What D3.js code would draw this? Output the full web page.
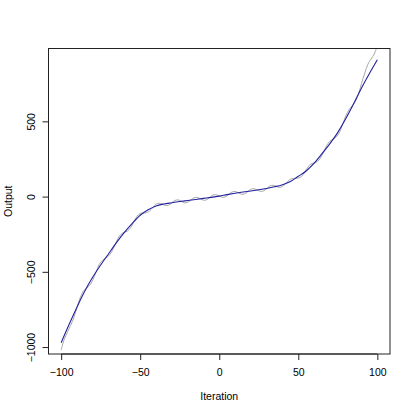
<!DOCTYPE html>
<html>
<head>
<meta charset="utf-8">
<script src="https://cdn.jsdelivr.net/npm/d3@7"></script>
<style>
  html, body { margin: 0; padding: 0; background: #fff; }
  text { font-family: "Liberation Sans", Arial, Helvetica, sans-serif; fill: #000; }
</style>
</head>
<body>
<svg id="chart" width="415" height="415"></svg>
<script>
// ---- data ----
const xTicks = [-100, -50, 0, 50, 100];
const yTicks = [-1000, -500, 0, 500];
const xLabel = "Iteration";
const yLabel = "Output";

// smooth (blue) series
const blueX = [-100, -95, -90, -85, -80, -75, -70, -65, -60, -55, -50, -45, -40, -35, -30, -25, -20, -15, -10, -5,
               0, 5, 10, 15, 20, 25, 30, 35, 40, 45, 50, 55, 60, 65, 70, 75, 80, 85, 90, 95, 100];
const blueY = [-971, -850, -735, -628, -535, -455, -380, -306, -238, -178, -124, -88, -62, -49, -41, -33, -26, -19, -12, -5,
               3, 13, 22, 30, 37, 45, 54, 65, 79, 100, 135, 170, 222, 285, 352, 427, 517, 617, 722, 818, 909];

// raw (grey) series
const grayX = [-100, -98, -96, -94, -92, -90, -88, -86, -84, -82, -80, -78, -76, -74, -72, -70, -68, -66, -64, -62,
               -60, -58, -56, -54, -52, -50, -48, -46, -44, -42, -40, -38, -36, -34, -32, -30, -28, -26, -24, -22,
               -20, -18, -16, -14, -12, -10, -8, -6, -4, -2, 0, 2, 4, 6, 8, 10, 12, 14, 16, 18,
               20, 22, 24, 26, 28, 30, 32, 34, 36, 38, 40, 42, 44, 46, 48, 50, 52, 54, 56, 58,
               60, 62, 64, 66, 68, 70, 72, 74, 76, 78, 80, 82, 84, 86, 88, 90, 92, 94, 96, 98, 100];
const grayY = [-1020, -948, -901, -856, -806, -736, -674, -629, -608, -590, -555, -504, -452, -424, -409, -395, -366, -322, -277, -249,
               -237, -229, -206, -168, -131, -112, -109, -107, -95, -73, -50, -44, -51, -59, -57, -42, -26, -22, -31, -41,
               -38, -23, -8, -5, -14, -24, -21, -6, 10, 12, 4, -5, -1, 14, 30, 34, 26, 16, 18, 33,
               49, 52, 44, 35, 38, 53, 70, 75, 69, 61, 67, 86, 108, 119, 122, 123, 133, 162, 195, 217,
               223, 232, 256, 297, 340, 368, 383, 397, 425, 480, 535, 577, 603, 630, 680, 752, 820, 879, 914, 947, 1004];

// ---- layout ----
const plotLeft = 48.5, plotRight = 390, plotTop = 48.5, plotBottom = 354;

const svg = d3.select("#chart");

// R-style 4% padded domains from the main (blue) series
const xExt = d3.extent(blueX), yExt = d3.extent(blueY);
const xPad = (xExt[1] - xExt[0]) * 0.04, yPad = (yExt[1] - yExt[0]) * 0.04;
const x = d3.scaleLinear().domain([xExt[0] - xPad, xExt[1] + xPad]).range([plotLeft, plotRight]);
const y = d3.scaleLinear().domain([yExt[0] - yPad, yExt[1] + yPad]).range([plotBottom, plotTop]);

svg.append("defs").append("clipPath").attr("id", "clip")
  .append("rect")
  .attr("x", plotLeft).attr("y", plotTop)
  .attr("width", plotRight - plotLeft).attr("height", plotBottom - plotTop);

const grayData = grayX.map((d, i) => [d, grayY[i]]);
const blueData = blueX.map((d, i) => [d, blueY[i]]);

const g = svg.append("g").attr("clip-path", "url(#clip)");

g.append("path")
  .datum(grayData)
  .attr("fill", "none")
  .attr("stroke", "#a6a6a6")
  .attr("stroke-width", 1)
  .attr("d", d3.line().x(d => x(d[0])).y(d => y(d[1])).curve(d3.curveCatmullRom));

g.append("path")
  .datum(blueData)
  .attr("fill", "none")
  .attr("stroke", "#2222a0")
  .attr("stroke-width", 1.1)
  .attr("d", d3.line().x(d => x(d[0])).y(d => y(d[1])).curve(d3.curveMonotoneX));

// box
svg.append("rect")
  .attr("x", plotLeft).attr("y", plotTop)
  .attr("width", plotRight - plotLeft).attr("height", plotBottom - plotTop)
  .attr("fill", "none").attr("stroke", "#222").attr("stroke-width", 1);

// x axis
const xAxis = d3.axisBottom(x).tickValues(xTicks).tickSize(6).tickPadding(6)
  .tickFormat(d => d < 0 ? "\u2212" + Math.abs(d) : String(d));
const gx = svg.append("g").attr("transform", `translate(0,${plotBottom})`).call(xAxis);
gx.select(".domain").attr("d", `M${x(xTicks[0])},0H${x(xTicks[xTicks.length - 1])}`).attr("stroke", "#222");
gx.selectAll(".tick line").attr("stroke", "#222");
gx.selectAll(".tick text")
  .attr("y", 18.7).attr("dy", "0.35em")
  .style("font-size", "10.5px").style("font-family", "'Liberation Sans', Arial, sans-serif").attr("fill", "#000");

// y axis
const yAxis = d3.axisLeft(y).tickValues(yTicks).tickSize(6)
  .tickFormat(d => d < 0 ? "\u2212" + Math.abs(d) : String(d));
const gy = svg.append("g").attr("transform", `translate(${plotLeft},0)`).call(yAxis);
gy.select(".domain").attr("d", `M0,${y(yTicks[0])}V${y(yTicks[yTicks.length - 1])}`).attr("stroke", "#222");
gy.selectAll(".tick line").attr("stroke", "#222");
gy.selectAll(".tick text")
  .attr("x", null).attr("dy", null)
  .attr("text-anchor", "middle")
  .attr("transform", `translate(${31 - plotLeft},0) rotate(-90)`)
  .attr("dy", "0.35em")
  .style("font-size", "10.5px").style("font-family", "'Liberation Sans', Arial, sans-serif").attr("fill", "#000");

// axis titles
svg.append("text")
  .attr("x", (plotLeft + plotRight) / 2).attr("y", 396).attr("dy", "0.35em")
  .attr("text-anchor", "middle").style("font-size", "10.5px")
  .text(xLabel);

svg.append("text")
  .attr("transform", `translate(8,${(plotTop + plotBottom) / 2}) rotate(-90)`)
  .attr("dy", "0.35em")
  .attr("text-anchor", "middle").style("font-size", "10.5px")
  .text(yLabel);
</script>
</body>
</html>
